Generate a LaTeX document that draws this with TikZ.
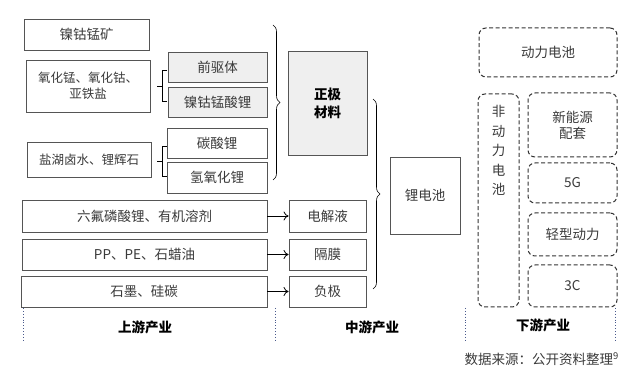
\documentclass[tikz,border=0pt]{standalone}
\usepackage{fontspec}
\setmainfont{Noto Sans CJK SC}
\usetikzlibrary{arrows.meta,decorations.pathreplacing}
\definecolor{edge}{HTML}{555555}
\definecolor{dedge}{HTML}{333333}
\definecolor{txt}{HTML}{3A3A3A}
\definecolor{shade}{HTML}{EFEFEF}
\definecolor{dotc}{HTML}{4A5A8C}
\begin{document}
\begin{tikzpicture}[x=1pt,y=-1pt,
  box/.style={draw=edge,line width=0.9pt,inner sep=0pt,text=txt,font=\fontsize{13.5}{16}\selectfont,align=center},
  gbox/.style={box,fill=shade},
  dbox/.style={draw=dedge,line width=1pt,dash pattern=on 4pt off 2.5pt,rounded corners=7pt,inner sep=0pt,text=txt,font=\fontsize{13.5}{16}\selectfont,align=center},
  conn/.style={draw=black,line width=0.8pt},
  arr/.style={conn,-{To[length=5pt,width=9pt]}},
  brc/.style={draw=black,line width=0.6pt,decorate,decoration={brace,amplitude=7pt}},
  dotl/.style={draw=dotc,line width=0.9pt,dotted},
  lab/.style={font=\bfseries\fontsize{13.5}{16}\selectfont,text=black}]
\useasboundingbox (0,0) rectangle (640,371);
% upstream boxes
\node[box,minimum width=125pt,minimum height=31pt] (ore) at (86.5,34.5) {镍钴锰矿};
\node[box,minimum width=124pt,minimum height=52pt,font=\fontsize{12.5}{16}\selectfont] (oxide) at (88,86) {氧化锰、氧化钴、\\亚铁盐};
\node[gbox,minimum width=99pt,minimum height=30pt] (pre) at (217.5,67) {前驱体};
\node[gbox,minimum width=99pt,minimum height=30pt] (ncm) at (217.5,102) {镍钴锰酸锂};
\node[box,minimum width=100pt,minimum height=30pt] (lco) at (217,143) {碳酸锂};
\node[box,minimum width=100pt,minimum height=31pt] (loh) at (217,177.5) {氢氧化锂};
\node[box,minimum width=124pt,minimum height=35pt,font=\fontsize{12.5}{16}\selectfont] (brine) at (89,159.5) {盐湖卤水、锂辉石};
\node[box,minimum width=245pt,minimum height=32pt] (lipf) at (144.5,216) {六氟磷酸锂、有机溶剂};
\node[box,minimum width=245pt,minimum height=31pt] (pp) at (144.5,254.5) {PP、PE、石蜡油};
\node[box,minimum width=246pt,minimum height=31pt] (gra) at (144,291.5) {石墨、硅碳};
% midstream
\node[gbox,minimum width=79pt,minimum height=104pt,font=\bfseries\fontsize{13.5}{18}\selectfont,text=black] (cat) at (327.5,103) {正极\\材料};
\node[box,minimum width=77pt,minimum height=32pt] (ele) at (327.5,216) {电解液};
\node[box,minimum width=77pt,minimum height=31pt] (sep) at (327.5,254.5) {隔膜};
\node[box,minimum width=77pt,minimum height=31pt] (ano) at (327.5,291.5) {负极};
\node[box,minimum width=70pt,minimum height=77pt] (bat) at (425,195.5) {锂电池};
% downstream
\node[dbox,minimum width=138pt,minimum height=49pt] (pow) at (548,52.5) {动力电池};
\node[dbox,minimum width=41pt,minimum height=213pt] (npow) at (498.5,200.5) {};
\node[text=txt,font=\fontsize{13.5}{19.5}\selectfont,align=center,anchor=north] (npowt) at (498.5,102) {非\\动\\力\\电\\池};
\node[dbox,minimum width=89pt,minimum height=64pt] (ess) at (572.5,125) {新能源\\配套};
\node[dbox,minimum width=89pt,minimum height=40pt] (g5) at (572.5,183) {5G};
\node[dbox,minimum width=89pt,minimum height=43pt] (light) at (572.5,234.5) {轻型动力};
\node[dbox,minimum width=89pt,minimum height=42pt] (c3) at (572.5,286) {3C};
% brackets
\draw[conn,line width=0.7pt] (167,70) -- (162,70) -- (162,101) -- (167,101) (157,86) -- (162,86);
\draw[conn,line width=0.7pt] (167,146) -- (162,146) -- (162,176) -- (167,176) (157,161) -- (162,161);
% braces
\draw[brc] (273,25) -- (273,180);
\draw[brc] (373,99) -- (373,289);
% arrows
\draw[arr] (lipf.east) -- (ele.west);
\draw[arr] (pp.east) -- (sep.west);
\draw[arr] (gra.east) -- (ano.west);
% dotted separators
\coordinate (d1a) at (23,308); \coordinate (d1b) at (23,340);
\coordinate (d2a) at (275,308); \coordinate (d2b) at (275,341);
\coordinate (d3a) at (465,308); \coordinate (d3b) at (465,340);
\coordinate (d4a) at (615,308); \coordinate (d4b) at (615,340);
\draw[dotl] (d1a) -- (d1b);
\draw[dotl] (d2a) -- (d2b);
\draw[dotl] (d3a) -- (d3b);
\draw[dotl] (d4a) -- (d4b);
% labels
\node[lab] (up) at (145,327) {上游产业};
\node[lab] (mid) at (372,327) {中游产业};
\node[lab] (down) at (543,325) {下游产业};
\node[anchor=east,text=txt,font=\fontsize{13.5}{16}\selectfont,inner sep=0pt] (src) at (619,359) {数据来源：公开资料整理\textsuperscript{9}};
\end{tikzpicture}
\end{document}
